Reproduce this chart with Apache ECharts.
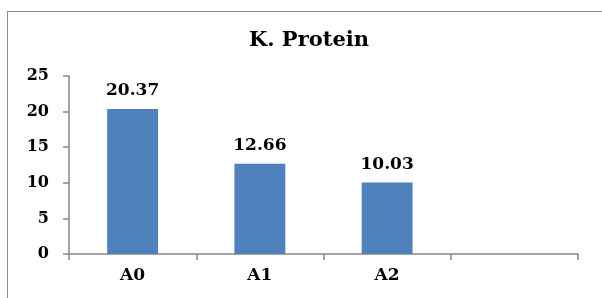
<!DOCTYPE html>
<html><head><meta charset="utf-8">
<script src="https://cdn.jsdelivr.net/npm/echarts@6/dist/echarts.min.js"></script>
<style>
html,body{margin:0;padding:0;background:#fff;}
#frame{position:absolute;left:7px;top:11px;width:620px;height:300px;border:1.5px solid #8c8c8c;box-sizing:border-box;}
#c{position:absolute;left:0;top:0;width:602px;height:298px;}
</style></head>
<body><div id="frame"></div><div id="c"></div>
<script>
const categories = ['A0','A1','A2',''];
const values = [20.37, 12.66, 10.03, null];
const titleText = 'K. Protein';
const yTicks = {min:0, max:25, interval:5};

const chart = echarts.init(document.getElementById('c'));
const font = '"DejaVu Serif", "Liberation Serif", serif';
chart.setOption({
  animation:false,
  title:{text:titleText,left:304,top:25,textAlign:'center',
    textStyle:{fontFamily:font,fontWeight:'bold',fontSize:21,color:'#000'}},
  grid:{left:69,right:24,top:76,bottom:44,containLabel:false},
  xAxis:{type:'category',data:categories,
    axisLine:{lineStyle:{color:'#868686',width:1.5}},
    axisTick:{show:true,length:6,alignWithLabel:false,lineStyle:{color:'#868686',width:1.5}},
    axisLabel:{fontFamily:font,fontWeight:'bold',fontSize:17,color:'#000',margin:13}},
  yAxis:{type:'value',min:yTicks.min,max:yTicks.max,interval:yTicks.interval,
    axisLine:{show:true,lineStyle:{color:'#868686',width:1.5}},
    axisTick:{show:true,length:6,lineStyle:{color:'#868686',width:1.5}},
    splitLine:{show:false},
    axisLabel:{fontFamily:font,fontWeight:'bold',fontSize:16,color:'#000',margin:20}},
  series:[{type:'bar',data:values,barCategoryGap:'60%',
    itemStyle:{color:'#4F81BD'},
    label:{show:true,position:'top',distance:10,fontFamily:font,fontWeight:'bold',fontSize:17,color:'#000',
      formatter:p=>p.value.toFixed(2)}}]
});
</script></body></html>
